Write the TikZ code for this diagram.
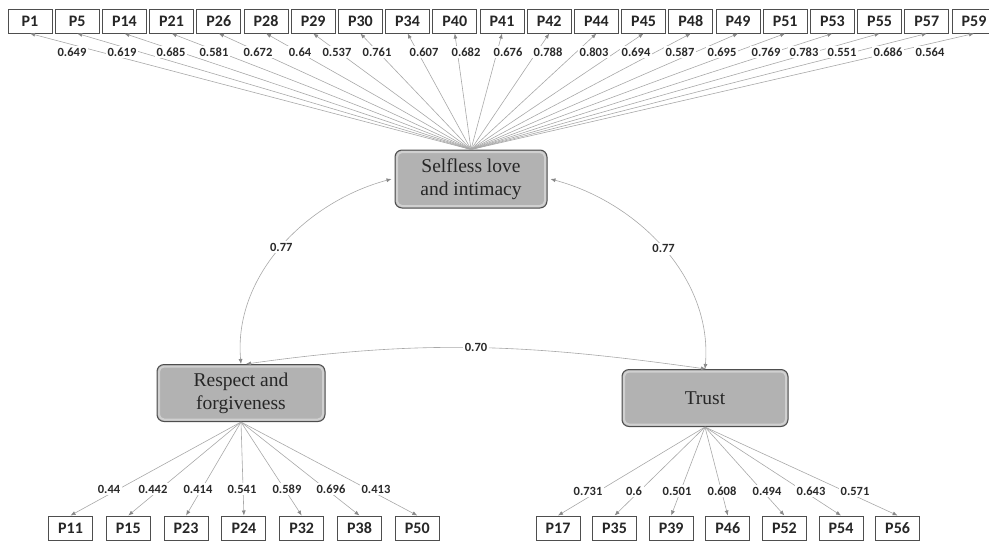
\documentclass[tikz,border=0pt]{standalone}
\usepackage{fontspec}
\setmainfont{Liberation Serif}
\newfontfamily\calib{Carlito}[BoldFont={Carlito Bold}]
\usetikzlibrary{positioning}
\usetikzlibrary{arrows.meta}

\definecolor{lineg}{HTML}{A8A8A8}
\definecolor{tipg}{HTML}{888888}
\definecolor{txtg}{HTML}{2A2A2A}
\definecolor{latfill}{HTML}{B2B2B2}
\definecolor{latband}{HTML}{D0D0D0}
\definecolor{boxline}{HTML}{4E4E4E}

\tikzset{
  item/.style={draw=boxline, line width=1pt, fill=white, minimum width=44pt,
    minimum height=24pt, inner sep=0pt, text=black!85,
    font=\calib\bfseries\fontsize{16}{16}\selectfont},
  latent/.style={draw=boxline, line width=1pt, fill=latfill, rounded corners=7pt,
    align=center, text=black!85, font=\fontsize{19.5}{23}\selectfont,
    path picture={\draw[latband, line width=2pt, rounded corners=5pt]
      ([shift={(2pt,-2pt)}]path picture bounding box.north west) rectangle
      ([shift={(-2pt,2pt)}]path picture bounding box.south east);}},
  load/.style={lineg, line width=0.6pt, -{Latex[length=5pt,width=4pt,color=tipg]}},
  cov/.style={lineg, line width=0.6pt,
    {Latex[length=5pt,width=4pt,color=tipg]}-{Latex[length=5pt,width=4pt,color=tipg]}},
  lab/.style={fill=white, inner sep=1.5pt, text=txtg,
    font=\calib\bfseries\fontsize{12.5}{13}\selectfont}
}

\begin{document}
\begin{tikzpicture}[x=1pt,y=-1pt]
  \useasboundingbox (0,0) rectangle (989,542);

  \node[latent, minimum width=152pt, minimum height=58pt] (sl) at (471,179) {Selfless love\\and intimacy};
  \node[latent, minimum width=168pt, minimum height=57pt] (rf) at (241,393) {Respect and\\forgiveness};
  \node[latent, minimum width=166pt, minimum height=57pt] (tr) at (705,398) {Trust};

  \foreach \p [count=\i from 0] in {1,5,14,21,26,28,29,30,34,40,41,42,44,45,48,49,51,53,55,57,59} {
    \node[item] (p\p) at ({30+47.2*\i},21) {P\p};
    \draw[load] (sl.north) -- (p\p.south);
  }
  \foreach \p/\v/\lx in {1/0.649/72, 5/0.619/122, 14/0.685/171, 21/0.581/214, 26/0.672/258,
      28/0.64/300, 29/0.537/337, 30/0.761/377, 34/0.607/424, 40/0.682/466, 41/0.676/508,
      42/0.788/548, 44/0.803/594, 45/0.694/636, 48/0.587/680, 49/0.695/722, 51/0.769/766,
      53/0.783/804, 55/0.551/842, 57/0.686/888, 59/0.564/930}
    \node[lab] (l\p) at (\lx,52) {\v};

  \foreach \p [count=\i from 0] in {11,15,23,24,32,38,50} {
    \node[item] (p\p) at ({70.5+57.8*\i},528) {P\p};
    \draw[load] (rf.south) -- (p\p.north);
  }
  \foreach \p/\v/\lx in {11/0.44/109, 15/0.442/153, 23/0.414/198, 24/0.541/242,
      32/0.589/287, 38/0.696/331, 50/0.413/376}
    \node[lab] (l\p) at (\lx,489) {\v};

  \foreach \p [count=\i from 0] in {17,35,39,46,52,54,56} {
    \node[item] (p\p) at ({558+56.6*\i},528) {P\p};
    \draw[load] (tr.south) -- (p\p.north);
  }
  \foreach \p/\v/\lx in {17/0.731/588, 35/0.6/634, 39/0.501/677, 46/0.608/722,
      52/0.494/767, 54/0.643/811, 56/0.571/855}
    \node[lab] (l\p) at (\lx,491) {\v};

  \draw[cov] ([xshift=-3pt]sl.west) to[out=195,in=95,looseness=0.95] node[lab, pos=0.5] (ca) {0.77} (rf.north);
  \draw[cov] ([xshift=3pt]sl.east) to[out=-15,in=85,looseness=0.95] node[lab, pos=0.5] (cb) {0.77} (tr.north);
  \draw[cov] ([xshift=5pt]rf.north) to[out=8,in=172] node[lab, pos=0.5] (cc) {0.70} ([xshift=1pt]tr.north);
\end{tikzpicture}
\end{document}
